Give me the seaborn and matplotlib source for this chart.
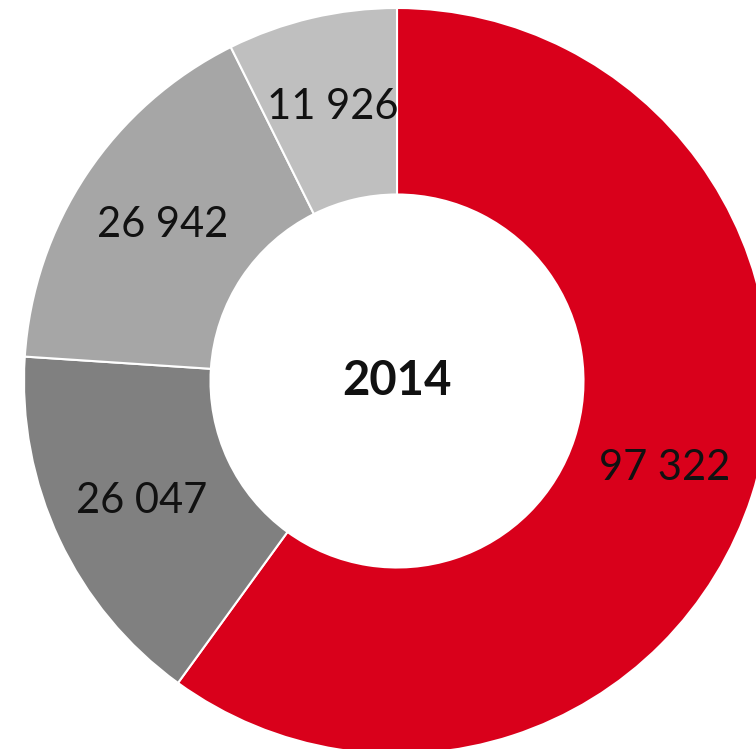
import matplotlib
matplotlib.use("Agg")
import matplotlib.pyplot as plt
import seaborn as sns

# data (clockwise from top)
labels = ["A", "B", "C", "D"]
values = [97322, 26047, 26942, 11926]
colors = ["#D9001B", "#808080", "#A6A6A6", "#BFBFBF"]
year = "2014"

sns.set_style("white")
plt.rcParams["font.family"] = ["Lato", "DejaVu Sans"]

fig = plt.figure(figsize=(7.56, 7.49), dpi=100)
ax = fig.add_axes([0, 0, 1, 1])

vals = iter(values)
def fmt(pct):
    return f"{next(vals):,}".replace(",", " ")

wedges, texts, autotexts = ax.pie(
    values, colors=colors, startangle=90, counterclock=False,
    radius=1, wedgeprops=dict(width=0.5, edgecolor="white", linewidth=1.5),
    autopct=fmt, pctdistance=0.755,
    textprops=dict(fontsize=30, color="#111111"))

ax.text(0, 0, year, ha="center", va="center", fontsize=34,
        fontweight="bold", color="#111111")

# radius 1 = 373 px, centre at (397, 381) px
ax.set_xlim(-397 / 373, (756 - 397) / 373)
ax.set_ylim(-(749 - 381) / 373, 381 / 373)
ax.set_aspect("equal")
ax.axis("off")

fig.savefig("out.png", dpi=100)
